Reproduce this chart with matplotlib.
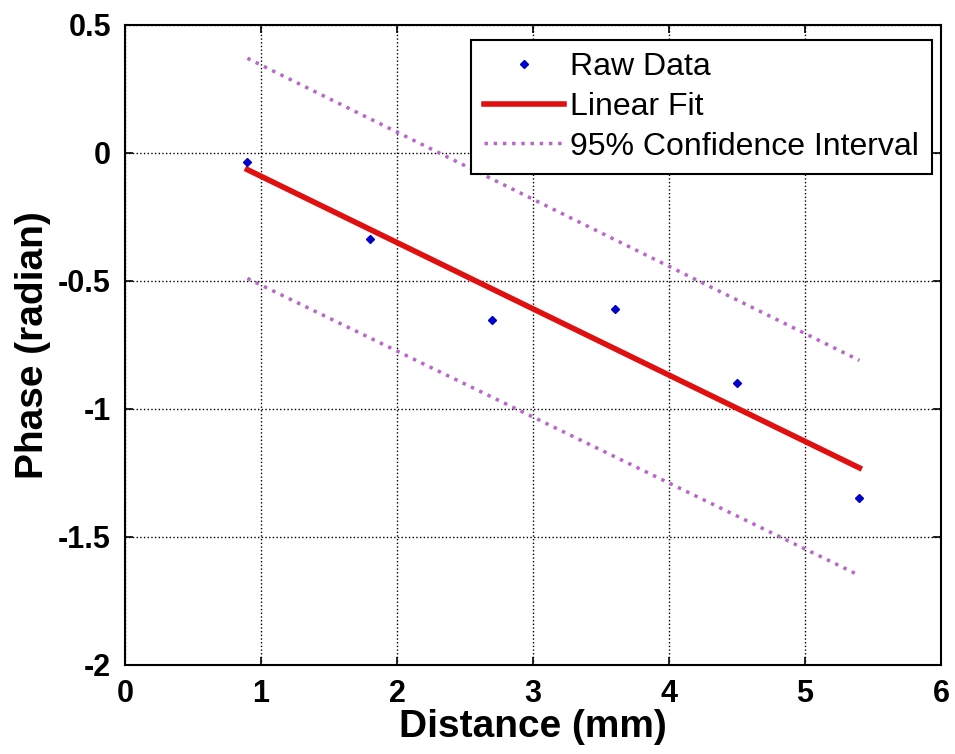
import matplotlib
matplotlib.use('Agg')
import matplotlib.pyplot as plt

distance = [0.9, 1.8, 2.7, 3.6, 4.5, 5.4]
phase = [-0.035, -0.336, -0.652, -0.61, -0.90, -1.348]

# linear fit and 95% confidence bounds, end points
fit_x = [0.9, 5.4]
fit_y = [-0.065, -1.23]
ci_upper = [0.37, -0.81]
ci_lower = [-0.49, -1.65]

plt.rcParams['font.family'] = ['Liberation Sans', 'DejaVu Sans']

fig = plt.figure(figsize=(9.55, 7.54), dpi=100)
ax = fig.add_axes([125 / 955, 1 - 665 / 754, 816 / 955, 640 / 754])

ax.plot(distance, phase, 'D', color='#0000c8', markersize=4.5, label='Raw Data', zorder=4)
ax.plot(fit_x, fit_y, '-', color='#e01010', linewidth=4, label='Linear Fit', zorder=3)
ax.plot(fit_x, ci_upper, ':', color='#b868c8', linewidth=2.5, label='95% Confidence Interval')
ax.plot(fit_x, ci_lower, ':', color='#b868c8', linewidth=2.5)

ax.set_xlim(0, 6)
ax.set_ylim(-2, 0.5)
ax.set_xticks(range(0, 7))
ax.set_yticks([-2, -1.5, -1, -0.5, 0, 0.5])
ax.set_yticklabels(['-2', '-1.5', '-1', '-0.5', '0', '0.5'])
ax.grid(True, linestyle=':', color='black', linewidth=1.0)
ax.tick_params(direction='in', top=True, right=True, length=6, width=1.2,
               labelsize=22, pad=10)
for lbl in ax.get_xticklabels() + ax.get_yticklabels():
    lbl.set_fontweight('bold')
for s in ax.spines.values():
    s.set_linewidth(1.5)

ax.set_xlabel('Distance (mm)', fontsize=28, fontweight='bold', labelpad=0)
ax.set_ylabel('Phase (radian)', fontsize=28, fontweight='bold', labelpad=5)

leg = ax.legend(loc='upper right', fontsize=23, frameon=True, fancybox=False,
                edgecolor='black', framealpha=1, borderpad=0.4, labelspacing=0.3,
                handlelength=2.5, handletextpad=0.2, borderaxespad=0,
                bbox_to_anchor=(0.989, 0.977))
leg.get_frame().set_linewidth(1.5)

fig.savefig('out.png', dpi=100)
